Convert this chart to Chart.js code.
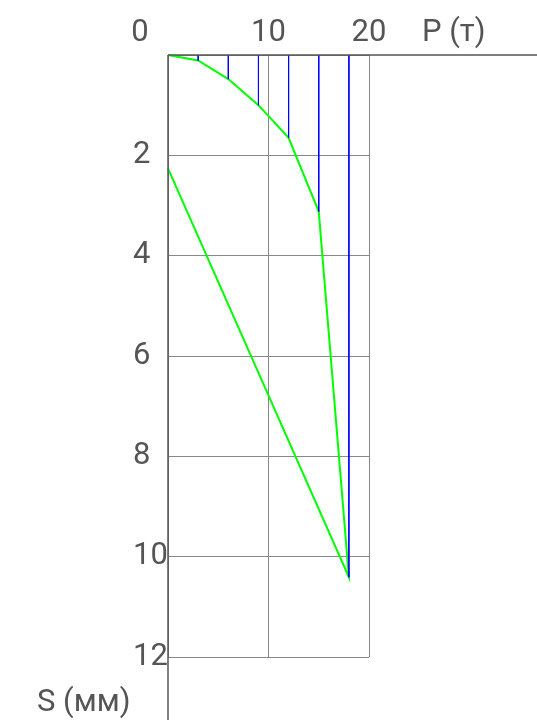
<!DOCTYPE html>
<html>
<head>
<meta charset="utf-8">
<script src="https://cdn.jsdelivr.net/npm/chart.js@4"></script>
<style>
  html, body { margin: 0; padding: 0; background: #fff; }
</style>
</head>
<body>
<canvas id="settleChart" width="537" height="720"></canvas>
<script>
// load P (т) and settlement S (мм) while loading
const loads = [0, 3, 6, 9, 12, 15, 18];
const settlement = [0, 0.11, 0.48, 1.0, 1.65, 3.12, 10.41];
// unloading back to zero load
const unloadLoads = [18, 0];
const unloadSettlement = [10.41, 2.26];
const xTicks = [0, 10, 20];
const yTicks = [2, 4, 6, 8, 10, 12];

const curve = loads.map((p, i) => ({x: p, y: settlement[i]}))
    .concat(unloadLoads.slice(1).map((p, i) => ({x: p, y: unloadSettlement[i + 1]})));

// vertical blue marks from the axis down to the curve
const stems = [];
loads.forEach((p, i) => {
    if (p === 0) return;
    stems.push({
        type: 'scatter',
        showLine: true,
        data: [{x: p, y: 0}, {x: p, y: settlement[i]}],
        borderColor: '#0000ff',
        borderWidth: 1,
        pointRadius: 0,
        clip: false
    });
});

const labelFont = '31px Roboto';
const textColor = '#555555';

const axisText = {
    id: 'axisText',
    afterDraw(chart) {
        const ctx = chart.ctx;
        const xs = chart.scales.x, ys = chart.scales.y;
        const x0 = xs.getPixelForValue(0), y0 = ys.getPixelForValue(0);
        ctx.save();
        // axis lines run on past the grid
        ctx.strokeStyle = '#555555';
        ctx.lineWidth = 1.5;
        ctx.beginPath();
        ctx.moveTo(x0, y0);
        ctx.lineTo(chart.width, y0);
        ctx.moveTo(x0, y0);
        ctx.lineTo(x0, chart.height);
        ctx.stroke();

        ctx.fillStyle = textColor;
        ctx.font = labelFont;
        ctx.textBaseline = 'alphabetic';
        ctx.textAlign = 'center';
        xTicks.forEach(v => {
            let px = xs.getPixelForValue(v);
            if (v === 0) px -= 28;
            ctx.fillText(String(v), px, 41);
        });
        ctx.textAlign = 'left';
        ctx.fillText('P (т)', 422, 41);

        ctx.textBaseline = 'middle';
        yTicks.forEach(v => {
            ctx.fillText(String(v), 133, ys.getPixelForValue(v));
        });
        ctx.textBaseline = 'alphabetic';
        ctx.fillText('S (мм)', 37, 711);
        ctx.restore();
    }
};

new Chart(document.getElementById('settleChart'), {
    type: 'scatter',
    data: {
        datasets: stems.concat([{
            type: 'scatter',
            showLine: true,
            data: curve,
            borderColor: '#00ff00',
            borderWidth: 2,
            pointRadius: 0,
            clip: false
        }])
    },
    options: {
        responsive: false,
        animation: false,
        devicePixelRatio: 1,
        layout: {padding: {left: 168, top: 55, right: 168, bottom: 63}},
        plugins: {legend: {display: false}, tooltip: {enabled: false}},
        scales: {
            x: {
                type: 'linear',
                position: 'top',
                min: 0,
                max: 20,
                ticks: {display: false, stepSize: 10},
                grid: {color: '#888888', drawTicks: false, lineWidth: 1},
                border: {display: false}
            },
            y: {
                type: 'linear',
                reverse: true,
                min: 0,
                max: 12,
                ticks: {display: false, stepSize: 2},
                grid: {color: '#888888', drawTicks: false, lineWidth: 1},
                border: {display: false}
            }
        }
    },
    plugins: [axisText]
});
</script>
</body>
</html>
